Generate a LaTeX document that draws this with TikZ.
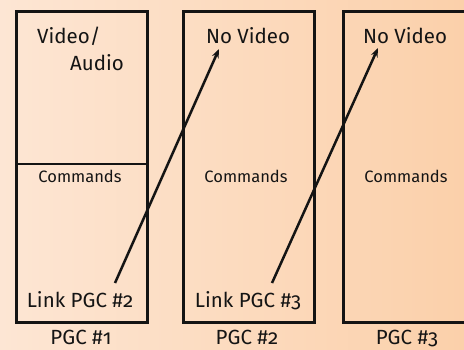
\documentclass[tikz,border=0pt]{standalone}
\usepackage{fontspec}
\setmainfont[Numbers=OldStyle]{Fira Sans}
\usetikzlibrary{arrows.meta}
\definecolor{bgA}{RGB}{253,230,212}
\definecolor{bgB}{RGB}{251,208,170}
\definecolor{ink}{RGB}{20,20,20}
\begin{document}
\begin{tikzpicture}[x=1pt,y=-1pt,
  pgcbox/.style={draw=ink,line width=2.8pt,minimum width=131pt,minimum height=311pt,inner sep=0pt,anchor=north west},
  big/.style={font=\fontsize{20.5}{24}\selectfont,text=ink,inner sep=0pt},
  small/.style={font=\fontsize{16.5}{19}\selectfont,text=ink,inner sep=0pt},
  link/.style={draw=ink,line width=2.5pt,-{Stealth[length=9pt,width=7pt]}}]
\useasboundingbox (0,0) rectangle (464,349);
\shade[left color=bgA,right color=bgB] (0,0) rectangle (464,349);
\node[pgcbox] (b1) at (15,10) {};
\node[pgcbox] (b2) at (182,10) {};
\node[pgcbox] (b3) at (342,10) {};
\coordinate (d1l) at (15,164);
\coordinate (d1r) at (146,164);
\draw[draw=ink,line width=2.8pt] (d1l) -- (d1r);
\node[big,anchor=base west] (va1) at (37,43) {Video/};
\node[big,anchor=base west] (va2) at (70,70) {Audio};
\node[big,anchor=base] (nv2) at (248,43) {No Video};
\node[big,anchor=base] (nv3) at (405,43) {No Video};
\node[small,anchor=base] (c1) at (80,182) {Commands};
\node[small,anchor=base] (c2) at (246,182) {Commands};
\node[small,anchor=base] (c3) at (406,182) {Commands};
\node[big,anchor=base] (l1) at (80,307) {Link PGC \#2};
\node[big,anchor=base] (l2) at (248,307) {Link PGC \#3};
\node[big,anchor=base] (p1) at (81,344) {PGC \#1};
\node[big,anchor=base] (p2) at (247,344) {PGC \#2};
\node[big,anchor=base] (p3) at (407,344) {PGC \#3};
\coordinate (s1) at (115,283);
\coordinate (e1) at (219,49);
\coordinate (s2) at (272,283);
\coordinate (e2) at (378,48);
\draw[link] (s1) -- (e1);
\draw[link] (s2) -- (e2);
\end{tikzpicture}
\end{document}
